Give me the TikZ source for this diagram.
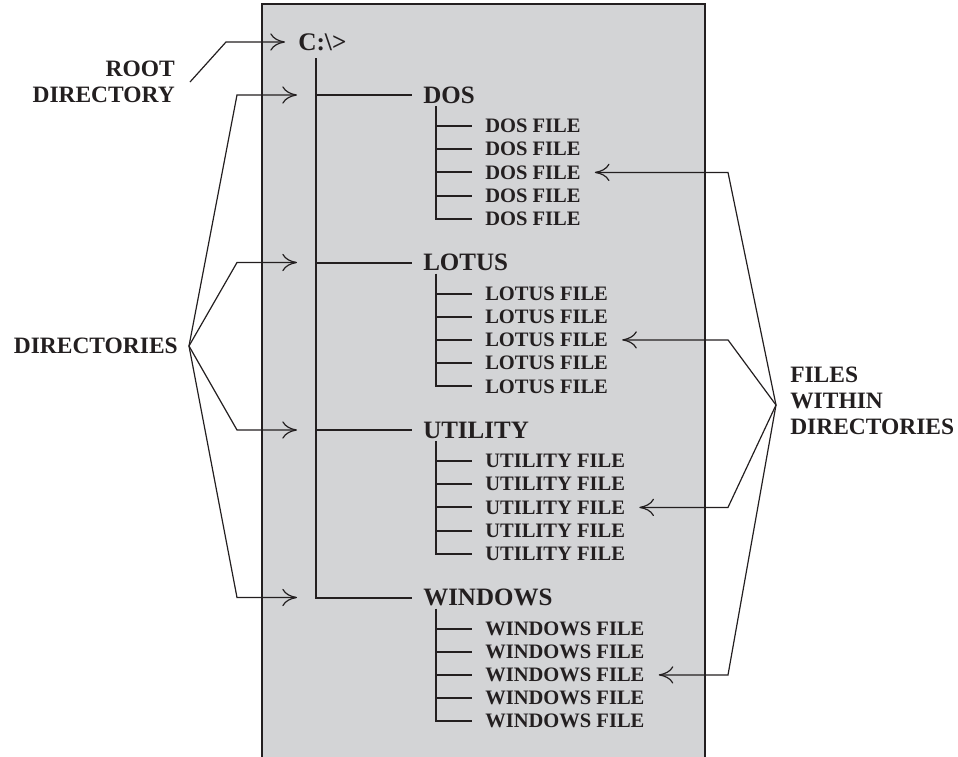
\documentclass[tikz,border=0pt]{standalone}
\usepackage{fontspec}
\setmainfont{Liberation Serif}
\usetikzlibrary{arrows.meta,calc}
\definecolor{panelgray}{RGB}{211,212,214}
\definecolor{inkdark}{RGB}{35,31,32}

\begin{document}
\begin{tikzpicture}[x=0.75pt,y=-0.75pt,inkdark,
  tree/.style={line width=1.5pt},
  ptr/.style={line width=0.9pt,-{To[length=11pt,width=13pt]}},
  lbl/.style={font=\fontsize{17.6}{19.7}\selectfont\bfseries,inner sep=0pt},
  dirname/.style={font=\fontsize{18.75}{20}\selectfont\bfseries,inner sep=0pt,anchor=west},
  filename/.style={font=\fontsize{15.4}{17}\selectfont\bfseries,inner sep=0pt,anchor=west}]
  \useasboundingbox (0,0) rectangle (958,757);
  % ---------------- panel ----------------
  \fill[panelgray] (262,4) rectangle (705,757);
  \draw[line width=0.9pt] (262,757) -- (262,4) -- (705,4) -- (705,757);
  % ---------------- tree ----------------
  \node[font=\fontsize{19}{20}\selectfont\bfseries,inner sep=0pt,anchor=west] (root) at (298,42) {C:\textbackslash>};
  \coordinate (top) at (316,58);
  \foreach \dname/\i in {DOS/0,LOTUS/1,UTILITY/2,WINDOWS/3}{
    \pgfmathsetmacro{\yd}{95+167.5*\i}
    \coordinate (j\i) at (316,\yd);
    \node[dirname] (d\i) at (423,\yd) {\dname};
    \draw[tree] (j\i) -- ++(96,0);
    \coordinate (s\i) at (436,\yd+11);
    \foreach \k in {1,...,5}{
      \node[filename] (f\i\k) at (485,\yd+31+23.2*\k-23.2) {\dname\ FILE};
      \draw[tree] (s\i |- f\i\k) -- ++(36,0);
    }
    \draw[tree] (s\i) -- (s\i |- f\i5) -- ++(36,0);
  }
  \draw[tree] (top) -- (j3) -- ++(96,0);
  % ---------------- labels ----------------
  \node[lbl,align=right,anchor=east] (rootlbl) at (175,82) {ROOT\\DIRECTORY};
  \node[lbl,anchor=east] (dirlbl) at (178,346) {DIRECTORIES};
  \node[lbl,align=left,anchor=west] (filelbl) at (790,401) {FILES\\WITHIN\\DIRECTORIES};
  % ---------------- pointers ----------------
  \coordinate (rconv) at ($(rootlbl.east)+(15,0)$);
  \draw[ptr] (rconv) -- ($(root.west)+(-72,0)$) -- ([xshift=-9.75pt]root.west);
  \coordinate (dconv) at ($(dirlbl.east)+(11,0)$);
  \foreach \i in {0,...,3}
    \draw[ptr] (dconv) -- ($(j\i)+(-79,0)$) -- ($(j\i)+(-19,0)$);
  \coordinate (fconv) at ($(filelbl.west)+(-14,4)$);
  \foreach \i in {0,...,3}
    \draw[ptr] (fconv) -- ($(fconv |- f\i3)+(-48,0)$) -- ([xshift=10.5pt]f\i3.east);
\end{tikzpicture}
\end{document}
